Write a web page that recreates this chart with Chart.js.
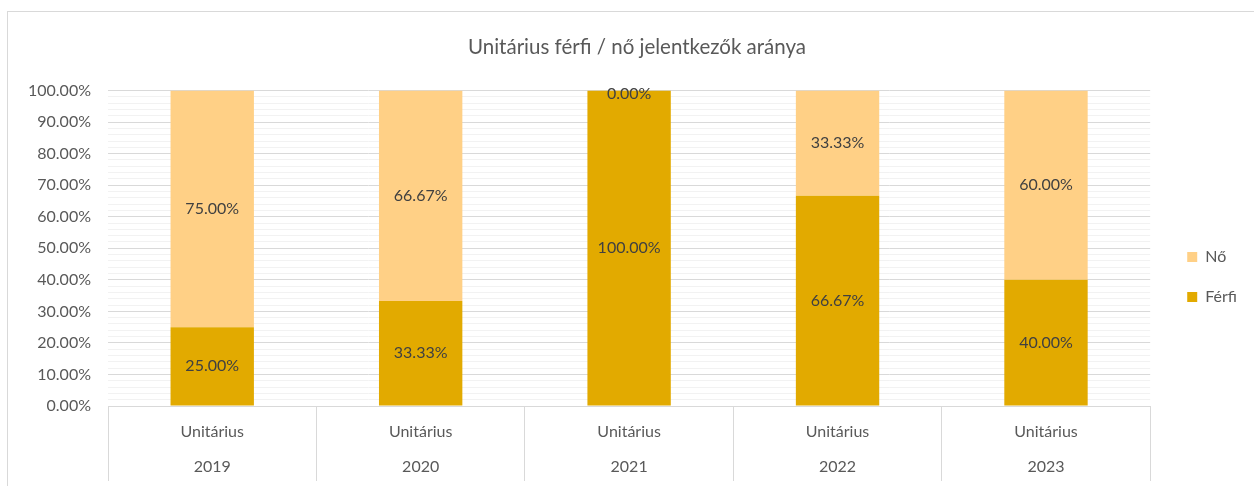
<!DOCTYPE html>
<html lang="hu">
<head>
  <meta charset="UTF-8">
  <title>Unitárius férfi / nő jelentkezők aránya</title>
  <script src="https://cdn.jsdelivr.net/npm/chart.js"></script>
  <style>
    body { margin: 0; background: #fff; }
    #frame { position: absolute; left: 7px; top: 11px; width: 1260px; height: 490px; border: 1px solid #d9d9d9; }
    #wrap { position: absolute; left: 0; top: 0; width: 1254px; height: 486px; }
  </style>
</head>
<body>
  <div id="frame"></div>
  <div id="wrap"><canvas id="chart" width="1254" height="486"></canvas></div>

  <script>
    const years = ['2019', '2020', '2021', '2022', '2023'];
    const group = 'Unitárius';
    const ferfi = [25.00, 33.33, 100.00, 66.67, 40.00];
    const no = [75.00, 66.67, 0.00, 33.33, 60.00];

    const FONT = 'Lato, "Open Sans", sans-serif';

    // Excel-style value labels centered in each segment
    const valueLabels = {
      id: 'valueLabels',
      afterDatasetsDraw(chart) {
        const ctx = chart.ctx;
        ctx.save();
        ctx.font = '16px ' + FONT;
        ctx.fillStyle = '#404040';
        ctx.textAlign = 'center';
        ctx.textBaseline = 'middle';
        chart.data.datasets.forEach((ds, i) => {
          chart.getDatasetMeta(i).data.forEach((bar, j) => {
            const p = bar.getProps(['x', 'y', 'base'], true);
            let y = (p.y + p.base) / 2;
            if (ds.data[j] === 0) y = p.y + 3;
            ctx.fillText(ds.data[j].toFixed(2) + '%', p.x, y);
          });
        });
        ctx.restore();
      }
    };

    // nudge legend and title a bit, like the Excel original
    const layoutShift = {
      id: 'layoutShift',
      afterLayout(chart) {
        const l = chart.legend;
        l.left += 13; l.right += 13;
        l.top += 34; l.bottom += 34;
        const t = chart.titleBlock;
        t.left += 20; t.right += 20;
      }
    };

    new Chart(document.getElementById('chart'), {
      type: 'bar',
      data: {
        labels: years.map(y => [group, y]),
        datasets: [
          { label: 'Férfi', data: ferfi, backgroundColor: '#E2AA00' },
          { label: 'Nő', data: no, backgroundColor: '#FFD086' }
        ]
      },
      options: {
        responsive: false,
        animation: false,
        layout: { padding: { left: 0, right: 20, top: 0, bottom: 0 } },
        datasets: { bar: { categoryPercentage: 1, barPercentage: 0.4 } },
        plugins: {
          title: {
            display: true,
            text: 'Unitárius férfi / nő jelentkezők aránya',
            color: '#595959',
            font: { family: FONT, size: 20.5, weight: 'normal' },
            padding: { top: 35, bottom: 31 }
          },
          legend: {
            position: 'right',
            reverse: true,
            labels: {
              boxWidth: 10, boxHeight: 10,
              color: '#595959',
              font: { family: FONT, size: 16 },
              padding: 24
            }
          },
          tooltip: { enabled: false }
        },
        scales: {
          x: {
            stacked: true,
            afterFit: s => { s.height = 80; },
            grid: { offset: true, drawOnChartArea: false, drawTicks: true, tickLength: 75, color: '#d9d9d9' },
            border: { display: true, color: '#d9d9d9' },
            ticks: {
              autoSkip: false,
              color: '#595959',
              font: { family: FONT, size: 16, lineHeight: 2.19 },
              padding: -67,
              maxRotation: 0
            }
          },
          y: {
            stacked: true,
            min: 0, max: 100,
            afterFit: s => { s.width = 108; },
            border: { display: false },
            grid: {
              drawTicks: false,
              color: c => c.tick.value % 10 === 0 ? '#d9d9d9' : '#f2f2f2'
            },
            ticks: {
              stepSize: 2,
              autoSkip: false,
              padding: 17,
              color: '#595959',
              font: { family: FONT, size: 16 },
              callback: v => v % 10 === 0 ? v.toFixed(2) + '%' : ''
            }
          }
        }
      },
      plugins: [valueLabels, layoutShift]
    });
  </script>
</body>
</html>
